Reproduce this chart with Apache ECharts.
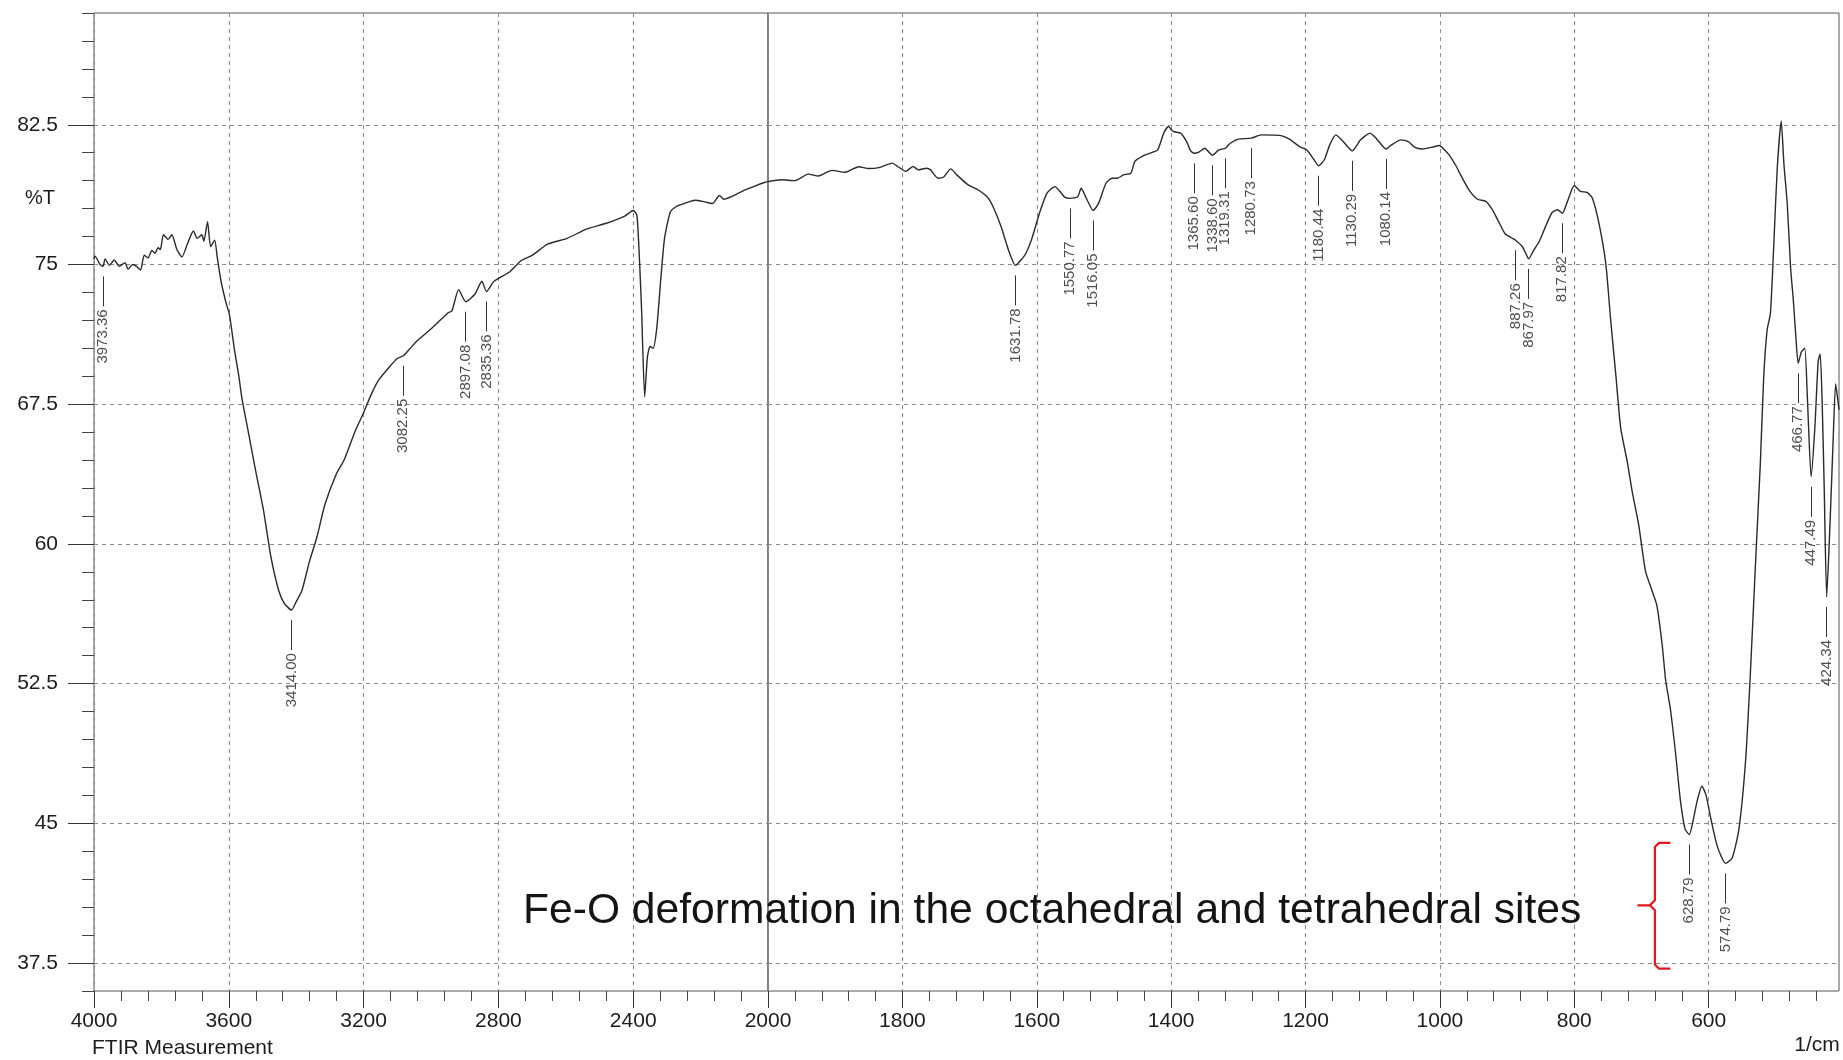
<!DOCTYPE html>
<html>
<head>
<meta charset="utf-8">
<title>FTIR Measurement</title>
<script src="https://cdn.jsdelivr.net/npm/echarts@6/dist/echarts.min.js"></script>
<style>
  html, body { margin: 0; padding: 0; background: #ffffff; }
  #chart { width: 1843px; height: 1060px; }
</style>
</head>
<body>
<div id="chart"></div>
<script>
// ---- Spectrum, 4000-2000 1/cm (compressed part of the wavenumber scale) ----
const WN_HI = [4000, 3997, 3982, 3967, 3954, 3940, 3925, 3908, 3899, 3885, 3874, 3862, 3851, 3840,
  3828, 3819, 3810, 3803, 3794, 3780, 3769, 3754, 3739, 3723, 3705, 3694, 3680, 3674, 3663, 3654,
  3642, 3634, 3623, 3609, 3598, 3583, 3571, 3560, 3543, 3520, 3497, 3475, 3452, 3435, 3400, 3383,
  3360, 3338, 3315, 3281, 3258, 3224, 3201, 3178, 3155, 3121, 3100, 3064, 3041, 2996, 2950, 2938,
  2918, 2870, 2849, 2813, 2767, 2733, 2699, 2653, 2596, 2539, 2482, 2425, 2400, 2389, 2381, 2375,
  2366, 2358, 2350, 2341, 2330, 2318, 2307, 2290, 2273, 2250, 2216, 2187, 2165, 2144, 2131, 2102,
  2068, 2034, 2011, 2000];
const T_HI = [75.3, 75.45, 75.0, 75.3, 74.95, 75.25, 74.9, 75.1, 74.75, 75.0, 74.9, 74.7, 75.5, 75.35,
  75.75, 75.6, 75.9, 75.8, 76.6, 76.35, 76.6, 75.8, 75.4, 76.1, 76.8, 76.4, 76.6, 76.25, 77.3, 75.95,
  76.3, 75.35, 74.1, 73.0, 72.3, 70.4, 69.1, 67.7, 66.1, 63.9, 61.8, 59.3, 57.5, 56.8, 56.9, 57.5,
  59.1, 60.4, 62.1, 63.75, 64.5, 66.1, 67.0, 68.0, 68.8, 69.55, 69.95, 70.45, 70.9, 71.6, 72.4, 72.5,
  73.65, 73.4, 74.1, 74.1, 74.6, 75.2, 75.5, 76.1, 76.4, 76.9, 77.2, 77.6, 77.9, 77.64, 75.1, 72.5,
  67.9, 70.0, 70.6, 70.5, 71.6, 74.25, 76.4, 77.8, 78.1, 78.27, 78.45, 78.36, 78.27, 78.7, 78.5, 78.7,
  79.0, 79.25, 79.4, 79.45];

// ---- Spectrum, 2000-406 1/cm (expanded part of the wavenumber scale) ----
const WN_LO = [2000, 1980, 1960, 1940, 1925, 1905, 1885, 1865, 1850, 1835, 1815, 1807, 1795, 1784,
  1776, 1764, 1758, 1747, 1739, 1728, 1719, 1702, 1687, 1673, 1665, 1653, 1642, 1622, 1616, 1608,
  1596, 1585, 1573, 1565, 1558, 1539, 1534, 1525, 1508, 1497, 1488, 1480, 1471, 1460, 1454, 1443,
  1431, 1420, 1411, 1404, 1397, 1386, 1377, 1371, 1358, 1350, 1329, 1312, 1300, 1266, 1238, 1224,
  1209, 1198, 1189, 1172, 1164, 1155, 1144, 1118, 1104, 1095, 1072, 1058, 1047, 1038, 1026, 1011,
  1001, 993, 986, 976, 971, 957, 944, 932, 922, 913, 903, 892, 877, 871, 860, 852, 843, 833, 825,
  810, 800, 791, 781, 773, 763, 753, 746, 738, 731, 721, 714, 704, 694, 684, 677, 669, 664, 657,
  649, 642, 635, 624, 617, 610, 604, 597, 587, 565, 555, 545, 538, 530, 523, 518, 513, 508, 503,
  498, 492, 488, 483, 478, 474, 470, 462, 457, 453, 442, 437, 434, 431, 428, 420, 415, 411, 408, 406];
const T_LO = [79.45, 79.55, 79.5, 79.85, 79.75, 80.05, 79.95, 80.25, 80.15, 80.2, 80.44, 80.26, 80.0, 80.26,
  80.08, 80.17, 80.08, 79.63, 79.68, 80.13, 79.81, 79.27, 79.0, 78.6, 78.1, 77.03, 75.77, 75.3, 75.6, 76.31,
  77.75, 78.82, 79.18, 78.9, 78.6, 78.64, 79.09, 78.46, 78.28, 79.36, 79.63, 79.63, 79.81, 79.9, 80.53, 80.8,
  80.98, 81.15, 82.05, 82.41, 82.14, 82.05, 81.6, 81.1, 81.05, 81.24, 81.15, 81.51, 81.73, 81.96, 81.93, 81.73,
  81.33, 81.15, 80.71, 80.62, 81.42, 81.96, 81.6, 81.69, 82.05, 81.78, 81.42, 81.69, 81.6, 81.3, 81.2, 81.3,
  81.39, 81.15, 80.87, 80.3, 79.94, 79.02, 78.5, 78.4, 77.94, 77.33, 76.65, 76.4, 75.94, 75.5, 75.79, 76.25, 77.02, 77.79, 77.94,
  78.4, 79.24, 78.92, 78.87, 78.56, 77.17, 75.02, 72.09, 69.01, 66.24, 64.39, 62.85, 61.0, 58.54, 57.46, 56.69, 54.53, 52.68, 51.15,
  48.68, 46.22, 44.68, 44.99, 46.22, 46.99, 46.53, 45.3, 43.75, 43.14, 44.68, 48.37, 52.99, 59.15, 64.39, 69.01, 71.47, 72.4, 76.1,
  80.1, 82.7, 80.4, 78.25, 74.8, 73.1, 71.0, 70.3, 70.5, 67.8, 66.2, 69.8, 70.2, 67.5, 63.0, 60.5, 65.3, 68.6, 67.8, 67.2];

// ---- Labelled bands: wavenumber and %T at the band ----
const PEAK_WN = [3973.36, 3414.00, 3082.25, 2897.08, 2835.36, 1631.78, 1550.77, 1516.05, 1365.60,
  1338.60, 1319.31, 1280.73, 1180.44, 1130.29, 1080.14, 887.26, 867.97, 817.82, 628.79, 574.79,
  466.77, 447.49, 424.34];
const PEAK_T = [74.9, 56.45, 70.1, 73.0, 73.55, 74.95, 78.55, 77.9, 80.97,
  80.86, 81.24, 81.78, 80.3, 81.1, 81.2, 76.3, 75.3, 77.75, 44.4, 42.85,
  69.7, 63.6, 57.15];

// ---- Axis ticks and labels ----
const X_LABELS_HI = [4000, 3600, 3200, 2800, 2400];
const X_LABELS_LO = [2000, 1800, 1600, 1400, 1200, 1000, 800, 600];
const Y_LABELS = [37.5, 45, 52.5, 60, 67.5, 75, 82.5];

// ---- Layout ----
const Y_MIN = 36, Y_MAX = 88.5;
const X_HI_MIN = 2000, X_HI_MAX = 4000;
const X_LO_MIN = 406, X_LO_MAX = 2000;
const GRID_TOP = 13, GRID_H = 978;
const GRID_HI = { left: 94, width: 674 };
const GRID_LO = { left: 768, width: 1071 };
const PX_PER_T = GRID_H / (Y_MAX - Y_MIN);
const MARK_GAP = 10, MARK_LEN = 30, TEXT_GAP = 3;

const FONT = "'Liberation Sans', Arial, Helvetica, sans-serif";
const INK = '#1c1c1c';
const GRID_LINE = { color: '#8c8c8c', width: 1, type: [4, 4] };

// minor tick positions along each scale segment
function ticksFrom(start, end, step) {
  const out = [];
  for (let v = start; v <= end + 1e-9; v += step) out.push(Math.round(v * 100) / 100);
  return out;
}
const X_MINOR_HI = ticksFrom(2000, 4000, 80);
const X_MINOR_LO = ticksFrom(440, 2000, 40);
const Y_MINOR = ticksFrom(Y_MIN, Y_MAX, 1.5);

// traced points plus the labelled bands, ordered from high to low wavenumber
function curve(wn, t, lo, hi) {
  const pts = wn.map((w, i) => [w, t[i]]);
  PEAK_WN.forEach((w, i) => { if (w > lo && w < hi) pts.push([w, PEAK_T[i]]); });
  pts.sort((a, b) => b[0] - a[0]);
  return pts;
}
function peaksIn(lo, hi) {
  const out = [];
  PEAK_WN.forEach((w, i) => { if (w > lo && w < hi) out.push({ w: w, t: PEAK_T[i] }); });
  return out;
}
// short vertical leader under each band
function leaderLines(peaks) {
  return peaks.map(p => [
    { coord: [p.w, p.t - MARK_GAP / PX_PER_T] },
    { coord: [p.w, p.t - (MARK_GAP + MARK_LEN) / PX_PER_T] }
  ]);
}
// anchor of the rotated wavenumber text, just under the leader
function labelPoints(peaks) {
  return peaks.map(p => [p.w, p.t - (MARK_GAP + MARK_LEN + TEXT_GAP) / PX_PER_T, p.w.toFixed(2)]);
}

const peaksHi = peaksIn(X_HI_MIN, X_HI_MAX);
const peaksLo = peaksIn(X_LO_MIN, X_LO_MAX);

function minorX(gridIndex, min, max, ticks) {
  return {
    gridIndex, type: 'value', min, max, inverse: true, position: 'bottom',
    axisLine: { show: false, onZero: false },
    axisTick: { show: true, customValues: ticks, length: 10, lineStyle: { color: '#444', width: 1 } },
    axisLabel: { show: false },
    splitLine: { show: false }
  };
}
function majorX(gridIndex, min, max, ticks) {
  return {
    gridIndex, type: 'value', min, max, inverse: true, position: 'bottom',
    axisLine: { show: false, onZero: false },
    axisTick: { show: true, customValues: ticks, length: 17, lineStyle: { color: '#333', width: 1 } },
    axisLabel: {
      show: true, customValues: ticks, margin: 20, fontSize: 21, fontFamily: FONT, color: INK,
      formatter: v => String(v)
    },
    splitLine: { show: true, lineStyle: GRID_LINE }
  };
}

const lineStyle = { color: '#2a2a2a', width: 1.4 };
const labelStyle = {
  show: true, position: 'inside', rotate: 90, align: 'right', verticalAlign: 'middle',
  fontSize: 15, fontFamily: FONT, color: '#222',
  formatter: p => p.value[2]
};
const leaderStyle = { color: '#333', width: 1, type: 'solid' };

const chart = echarts.init(document.getElementById('chart'), null, { renderer: 'canvas' });

chart.setOption({
  animation: false,
  backgroundColor: '#ffffff',
  grid: [
    { left: GRID_HI.left, top: GRID_TOP, width: GRID_HI.width, height: GRID_H, show: true,
      borderColor: '#555', borderWidth: 1, outerBoundsMode: 'none' },
    { left: GRID_LO.left, top: GRID_TOP, width: GRID_LO.width, height: GRID_H, show: true,
      borderColor: '#555', borderWidth: 1, outerBoundsMode: 'none' }
  ],
  xAxis: [
    minorX(0, X_HI_MIN, X_HI_MAX, X_MINOR_HI),
    majorX(0, X_HI_MIN, X_HI_MAX, X_LABELS_HI),
    minorX(1, X_LO_MIN, X_LO_MAX, X_MINOR_LO),
    majorX(1, X_LO_MIN, X_LO_MAX, X_LABELS_LO)
  ],
  yAxis: [
    {
      gridIndex: 0, type: 'value', min: Y_MIN, max: Y_MAX, position: 'left',
      axisLine: { show: false, onZero: false },
      axisTick: { show: true, customValues: Y_MINOR, length: 12, lineStyle: { color: '#444', width: 1 } },
      axisLabel: { show: false },
      splitLine: { show: false }
    },
    {
      gridIndex: 0, type: 'value', min: Y_MIN, max: Y_MAX, position: 'left',
      axisLine: { show: false, onZero: false },
      axisTick: { show: true, customValues: Y_LABELS, length: 26, lineStyle: { color: '#333', width: 1 } },
      axisLabel: {
        show: true, customValues: Y_LABELS, margin: 36, fontSize: 21, fontFamily: FONT, color: INK,
        formatter: v => String(v)
      },
      splitLine: { show: true, lineStyle: GRID_LINE }
    },
    {
      gridIndex: 1, type: 'value', min: Y_MIN, max: Y_MAX, position: 'left',
      axisLine: { show: false, onZero: false },
      axisTick: { show: false, customValues: Y_LABELS },
      axisLabel: { show: false },
      splitLine: { show: true, lineStyle: GRID_LINE }
    }
  ],
  series: [
    {
      type: 'line', name: 'hi', xAxisIndex: 1, yAxisIndex: 1,
      data: curve(WN_HI, T_HI, X_HI_MIN, X_HI_MAX),
      showSymbol: false, smooth: 0.2, lineStyle, silent: true,
      markLine: { silent: true, symbol: ['none', 'none'], label: { show: false },
        lineStyle: leaderStyle, data: leaderLines(peaksHi) }
    },
    {
      type: 'line', name: 'lo', xAxisIndex: 3, yAxisIndex: 2,
      data: curve(WN_LO, T_LO, X_LO_MIN, X_LO_MAX),
      showSymbol: false, smooth: 0.2, lineStyle, silent: true,
      markLine: { silent: true, symbol: ['none', 'none'], label: { show: false },
        lineStyle: leaderStyle, data: leaderLines(peaksLo) }
    },
    {
      type: 'scatter', name: 'hi-labels', xAxisIndex: 1, yAxisIndex: 1,
      data: labelPoints(peaksHi), symbolSize: 0, silent: true, label: labelStyle
    },
    {
      type: 'scatter', name: 'lo-labels', xAxisIndex: 3, yAxisIndex: 2,
      data: labelPoints(peaksLo), symbolSize: 0, silent: true, label: labelStyle
    }
  ]
});

// Bracket spanning the two Fe-O bands, placed in data units of the low-wavenumber grid
const toPx = (w, t) => chart.convertToPixel({ xAxisIndex: 3, yAxisIndex: 2 }, [w, t]);
const bTop = toPx(680, 43.95), bBot = toPx(680, 37.2), bMid = toPx(680, 40.6);
const bRight = toPx(657, 40)[0], bTip = toPx(706, 40)[0];
const bx = bTop[0];

chart.setOption({
  graphic: [
    { type: 'text', id: 'ylabel', x: 40, y: 198,
      style: { text: '%T', fontSize: 20, fontFamily: FONT, fill: INK, align: 'center', verticalAlign: 'middle' } },
    { type: 'text', id: 'xtitle', x: 92, y: 1048,
      style: { text: 'FTIR Measurement', fontSize: 21, fontFamily: FONT, fill: INK, align: 'left', verticalAlign: 'middle' } },
    { type: 'text', id: 'xunit', x: 1817, y: 1045,
      style: { text: '1/cm', fontSize: 21, fontFamily: FONT, fill: INK, align: 'center', verticalAlign: 'middle' } },
    { type: 'text', id: 'note', x: 523, y: 911,
      style: { text: 'Fe-O deformation in the octahedral and tetrahedral sites', fontSize: 42.6,
        fontFamily: FONT, fill: '#141414', align: 'left', verticalAlign: 'middle' } },
    { type: 'polyline', id: 'brace',
      shape: { points: [
        [bRight, bTop[1]], [bx + 4, bTop[1]], [bx, bTop[1] + 4],
        [bx, bMid[1] - 5], [bx - 5, bMid[1]], [bTip, bMid[1]], [bx - 5, bMid[1]], [bx, bMid[1] + 5],
        [bx, bBot[1] - 4], [bx + 4, bBot[1]], [bRight, bBot[1]]
      ] },
      style: { stroke: '#e3191f', lineWidth: 2.2, fill: null } }
  ]
});
</script>
</body>
</html>
